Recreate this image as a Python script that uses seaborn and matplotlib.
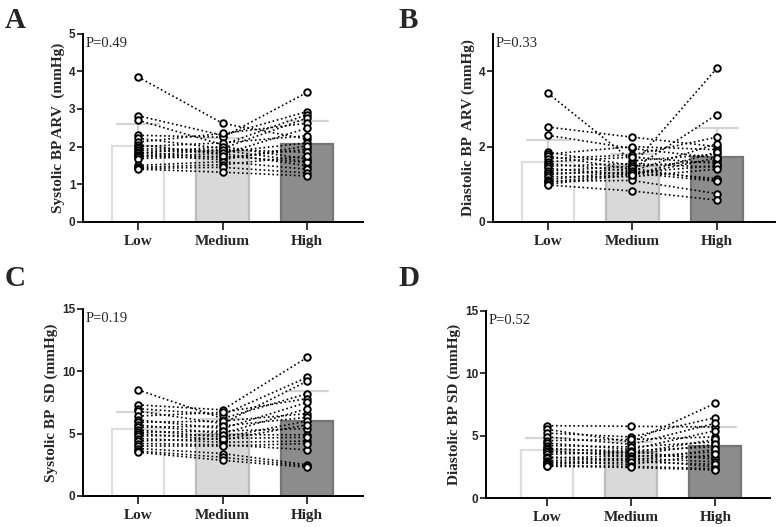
import matplotlib
matplotlib.use("Agg")
import matplotlib.pyplot as plt
import numpy as np
import pandas as pd
import seaborn as sns

# ---- data (one value per subject, same subject order across groups) ----
groups = ["Low", "Medium", "High"]

sbp_arv_low = [3.85, 2.82, 2.70, 2.30, 2.22, 2.12, 2.05, 2.00, 1.95, 1.90,
               1.85, 1.82, 1.78, 1.75, 1.72, 1.68, 1.50, 1.45, 1.42, 1.40]
sbp_arv_med = [2.62, 2.30, 2.05, 2.25, 1.95, 2.35, 1.80, 2.10, 1.90, 1.85,
               1.70, 2.00, 1.65, 1.92, 1.82, 1.75, 1.60, 1.52, 1.45, 1.32]
sbp_arv_high = [2.20, 2.93, 2.85, 3.44, 2.76, 2.62, 2.49, 2.29, 1.60, 2.10,
                1.93, 1.67, 2.02, 1.85, 1.49, 1.58, 1.40, 1.75, 1.30, 1.22]

dbp_arv_low = [3.42, 2.52, 2.30, 1.85, 1.80, 1.75, 1.68, 1.60, 1.55, 1.48,
               1.42, 1.35, 1.30, 1.25, 1.20, 1.12, 1.08, 1.05, 1.00, 0.98]
dbp_arv_med = [1.62, 2.25, 1.95, 1.50, 2.00, 1.40, 1.78, 1.72, 1.35, 1.55,
               1.25, 1.48, 1.30, 1.42, 1.20, 1.35, 1.10, 1.30, 1.25, 0.82]
dbp_arv_high = [1.80, 2.00, 1.70, 4.08, 1.92, 2.85, 2.25, 1.55, 2.08, 1.45,
                1.85, 1.62, 1.50, 1.10, 1.40, 1.15, 0.75, 1.08, 1.70, 0.58]

sbp_sd_low = [8.5, 7.3, 7.0, 6.8, 6.4, 6.1, 5.9, 5.7, 5.5, 5.3,
              5.1, 5.0, 4.8, 4.6, 4.4, 4.2, 4.0, 3.8, 3.6, 3.5]
sbp_sd_med = [6.2, 6.9, 6.5, 5.8, 6.7, 5.4, 6.0, 5.0, 5.6, 4.7,
              5.2, 4.5, 4.9, 4.3, 4.6, 4.1, 4.0, 3.4, 3.1, 2.85]
sbp_sd_high = [8.2, 11.1, 9.5, 9.2, 7.8, 7.5, 6.6, 7.0, 6.3, 6.0,
               5.4, 5.7, 4.9, 4.4, 4.7, 3.7, 4.2, 2.5, 2.4, 2.3]

dbp_sd_low = [5.8, 5.5, 5.2, 4.9, 4.6, 4.4, 4.2, 4.0, 3.9, 3.8,
              3.7, 3.5, 3.3, 3.2, 3.0, 2.9, 2.8, 2.7, 2.6, 2.55]
dbp_sd_med = [5.75, 4.5, 4.9, 4.3, 4.7, 3.9, 4.1, 3.6, 3.8, 3.3,
              3.5, 3.7, 3.0, 3.4, 3.2, 2.7, 3.1, 2.9, 2.55, 2.45]
dbp_sd_high = [5.7, 7.6, 6.45, 6.0, 4.9, 5.4, 4.5, 4.7, 4.1, 3.7,
               4.3, 3.1, 3.9, 3.3, 2.9, 3.5, 2.5, 2.7, 2.35, 2.25]

p_values = ["P=0.49", "P=0.33", "P=0.19", "P=0.52"]
y_labels = ["Systolic BP ARV  (mmHg)", "Diastolic BP  ARV (mmHg)",
            "Systolic BP  SD (mmHg)", "Diastolic BP SD (mmHg)"]

bar_faces = ["#ffffff", "#d9d9d9", "#8c8c8c"]
bar_edges = ["#dedede", "#bdbdbd", "#757575"]

sns.set_style("ticks")
plt.rcParams["font.family"] = ["Liberation Serif", "DejaVu Serif"]


def long_frame(low, med, high):
    rows = []
    for g, vals in zip(groups, [low, med, high]):
        for i, v in enumerate(vals):
            rows.append({"subject": i, "group": g, "pos": groups.index(g), "value": v})
    return pd.DataFrame(rows)


def draw_panel(ax, df, ylabel, ptext, ylim, yticks, xlim):
    sns.barplot(data=df, x="group", y="value", hue="group", order=groups,
                hue_order=groups, palette=bar_faces, legend=False,
                errorbar="sd", capsize=0.5, width=0.62, ax=ax,
                err_kws={"color": "#d4d4d4", "linewidth": 1.6, "zorder": 0.8})
    for patch, ec in zip(ax.patches, bar_edges):
        patch.set_edgecolor(ec)
        patch.set_linewidth(1.6)
        patch.set_zorder(1)

    # paired subject lines
    sns.lineplot(data=df, x="pos", y="value", units="subject", estimator=None,
                 color="black", linestyle=(0, (1, 1.6)), linewidth=1.2,
                 ax=ax, legend=False, zorder=3)
    sns.scatterplot(data=df, x="pos", y="value", marker="o", s=22,
                    color="white", edgecolor="black", linewidth=1.4,
                    ax=ax, legend=False, zorder=4)

    ax.set_xlim(*xlim)
    ax.set_ylim(*ylim)
    ax.set_yticks(yticks)
    ax.set_xticks(range(len(groups)))
    ax.set_xticklabels(groups, fontsize=11, fontweight="bold")
    ax.set_xlabel("")
    ax.set_ylabel(ylabel, fontsize=11, fontweight="bold", labelpad=3)
    for lab in ax.get_yticklabels():
        lab.set_fontfamily("Liberation Sans")
        lab.set_fontweight("bold")
        lab.set_fontsize(8.5)
    ax.tick_params(axis="y", length=4.5, width=1.3, pad=1)
    ax.tick_params(axis="x", length=5.5, width=1.3, pad=4)
    sns.despine(ax=ax)
    for s in ["left", "bottom"]:
        ax.spines[s].set_linewidth(1.4)
        ax.spines[s].set_color("black")
    ax.text(0.008, 0.985, ptext, transform=ax.transAxes, ha="left", va="top",
            fontsize=10.5)


fig = plt.figure(figsize=(7.77, 5.27), dpi=100)
ax_a = fig.add_axes([0.107, 0.579, 0.360, 0.357])
ax_b = fig.add_axes([0.6345, 0.579, 0.363, 0.357])
ax_c = fig.add_axes([0.107, 0.059, 0.360, 0.355])
ax_d = fig.add_axes([0.6255, 0.055, 0.3655, 0.355])

draw_panel(ax_a, long_frame(sbp_arv_low, sbp_arv_med, sbp_arv_high),
           y_labels[0], p_values[0], (0, 5), [0, 1, 2, 3, 4, 5], (-0.65, 2.66))
draw_panel(ax_b, long_frame(dbp_arv_low, dbp_arv_med, dbp_arv_high),
           y_labels[1], p_values[1], (0, 5), [0, 2, 4], (-0.65, 2.69))
draw_panel(ax_c, long_frame(sbp_sd_low, sbp_sd_med, sbp_sd_high),
           y_labels[2], p_values[2], (0, 15), [0, 5, 10, 15], (-0.65, 2.66))
draw_panel(ax_d, long_frame(dbp_sd_low, dbp_sd_med, dbp_sd_high),
           y_labels[3], p_values[3], (0, 15), [0, 5, 10, 15], (-0.73, 2.65))

for letter, (x, y) in zip("ABCD", [(0.006, 0.947), (0.513, 0.947),
                                   (0.006, 0.458), (0.513, 0.458)]):
    fig.text(x, y, letter, fontsize=21, fontweight="bold", ha="left",
             va="baseline")

fig.savefig("out.png", dpi=100)
